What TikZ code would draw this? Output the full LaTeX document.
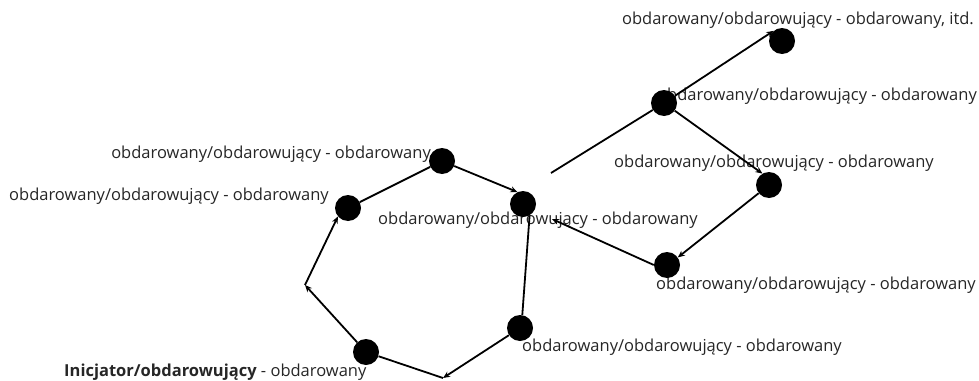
\documentclass[tikz,border=0pt]{standalone}
\usepackage{fontspec}
\setmainfont{Open Sans}
\usetikzlibrary{arrows.meta}
\begin{document}
\begin{tikzpicture}[x=1pt,y=-1pt,
  person/.style={circle,fill=black,minimum size=26pt,inner sep=0pt},
  lbl/.style={anchor=base west,inner sep=0pt,text=black!85,font=\fontsize{16.5}{19}\selectfont},
  rlbl/.style={lbl,anchor=base east},
  link/.style={line width=1.8pt},
  gift/.style={link,-{Stealth[length=7pt,width=6pt]}}]
\useasboundingbox (0,0) rectangle (979,380);

% labels (drawn first so the lines and circles sit on top)
\node[lbl] (la) at (64,376) {\textbf{Inicjator/obdarowujący} - obdarowany};
\node[lbl] (lb) at (522,351) {obdarowany/obdarowujący - obdarowany};
\node[lbl] (lc) at (378,224) {obdarowany/obdarowujący - obdarowany};
\node[rlbl] (ld) at (431,158) {obdarowany/obdarowujący - obdarowany};
\node[lbl] (le) at (9,200) {obdarowany/obdarowujący - obdarowany};
\node[lbl] (lf) at (656,289) {obdarowany/obdarowujący - obdarowany};
\node[lbl] (lg) at (614,167) {obdarowany/obdarowujący - obdarowany};
\node[rlbl] (lh) at (977,100) {obdarowany/obdarowujący - obdarowany};
\node[rlbl] (li) at (974,24) {obdarowany/obdarowujący - obdarowany, itd.};

% people
\node[person] (a) at (366,352) {};
\node[person] (b) at (520,328) {};
\node[person] (c) at (523,204) {};
\node[person] (d) at (442,161) {};
\node[person] (e) at (348,208) {};
\node[person] (f) at (667,265) {};
\node[person] (g) at (769,185) {};
\node[person] (h) at (664,103) {};
\node[person] (i) at (782,41) {};

% free ends of connectors
\coordinate (p) at (305,285);
\coordinate (q) at (443,378);
\coordinate (s) at (551,173);
\coordinate (t) at (552,219);

% connectors
\draw[gift] (a) -- (p);
\draw[gift] (p) -- (e.220);
\draw[link] (e) -- (d);
\draw[gift] (d) -- (c.115);
\draw[link] (c.-60) -- (b.80);
\draw[gift] (b) -- (q);
\draw[link] (a) -- (q);
\draw[gift] (f.180) -- (t);
\draw[gift] (g) -- (f.35);
\draw[gift] (h) -- (g.120);
\draw[gift] (h) -- (i.130);
\draw[link] (s) -- (h);
\end{tikzpicture}
\end{document}
